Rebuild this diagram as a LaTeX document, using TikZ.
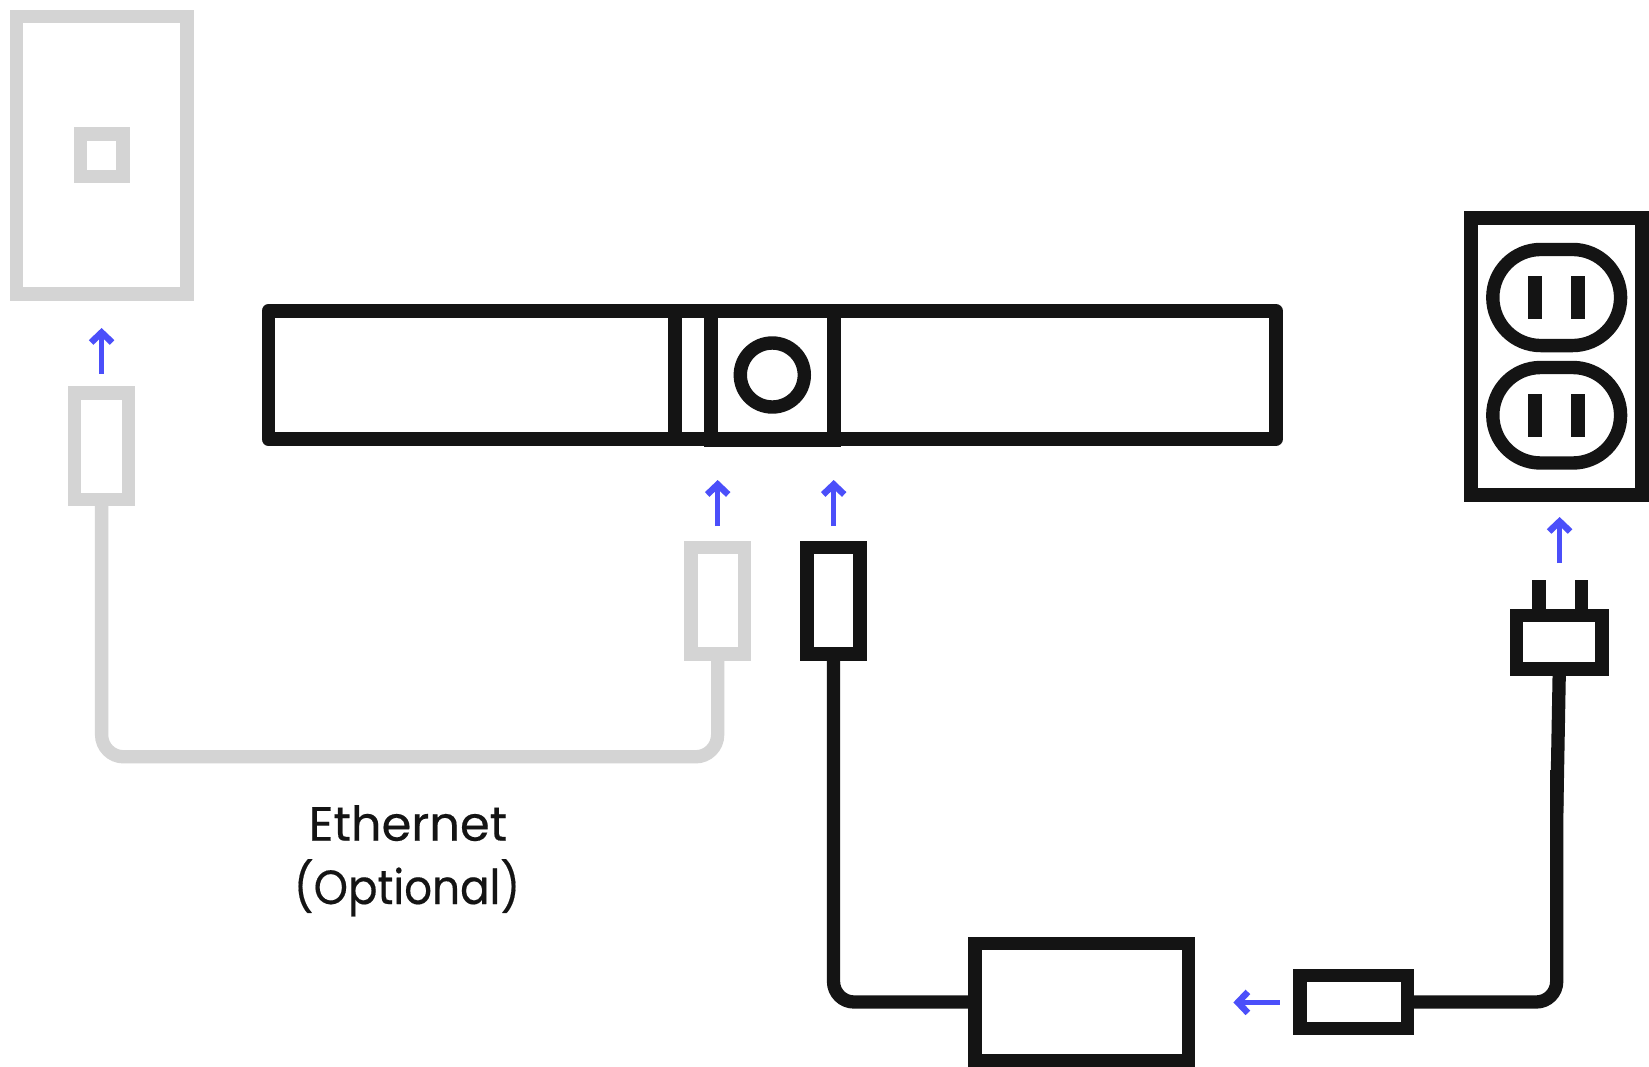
\documentclass[tikz,border=0pt]{standalone}
\usepackage{fontspec}
\setmainfont{Poppins}
\usetikzlibrary{arrows.meta,shapes.misc}
\definecolor{ink}{HTML}{141414}
\definecolor{pale}{HTML}{D4D4D4}
\definecolor{hint}{HTML}{4B4FFA}
\tikzset{
  part/.style={draw=#1,line width=13.5pt,inner sep=0pt,outer sep=0pt,rectangle,miter limit=10},
  dark/.style={part=ink},
  light/.style={part=pale},
  cord/.style={draw=#1,line width=13.3pt,rounded corners=20.5pt},
  slot/.style={fill=ink,draw=none,inner sep=0pt,outer sep=0pt,minimum width=13.7pt,minimum height=43.3pt},
  socket/.style={draw=ink,line width=13.4pt,rounded rectangle,rounded rectangle arc length=180,inner sep=0pt,outer sep=0pt,minimum width=127.8pt},
  hintarrow/.style={draw=hint,line width=5.3pt,-{Straight Barb[length=10pt,width=21pt,line width=6.5pt]}},
  label/.style={text=ink,inner sep=0pt,outer sep=0pt,font=\fontsize{48}{63}\selectfont\addfontfeature{FakeBold=0.35},align=center}
}
\begin{document}
\begin{tikzpicture}[x=1pt,y=-1pt]
\useasboundingbox[fill=white] (0,0) rectangle (1649,1066);

% wall plate (ethernet)
\node[light,minimum width=170.7pt,minimum height=277.7pt] (wall) at (101.6,155.15) {};
\node[light,minimum width=42.6pt,minimum height=42.6pt] (jack) at (101.6,155.1) {};

% ethernet plugs and cable
\node[light,minimum width=53.8pt,minimum height=106.3pt] (plugA) at (101.6,446.15) {};
\node[light,minimum width=53.3pt,minimum height=106.7pt] (plugB) at (717.65,600.65) {};
\coordinate (lowE) at (400,756.8);
\draw[cord=pale,rounded corners=22pt] (plugA.south) -- (plugA.south |- lowE) -- (plugB.south |- lowE) -- (plugB.south);

% soundbar
\node[dark,line join=round,minimum width=1007.6pt,minimum height=128.4pt] (bar) at (772.2,375) {};
\coordinate (divider) at (675.2,375);
\draw[ink,line width=13.5pt] (divider |- bar.north) -- (divider |- bar.south);
\node[dark,minimum width=123.4pt,minimum height=129pt] (dock) at (772.5,375.4) {};
\node[draw=ink,line width=13.4pt,circle,inner sep=0pt,minimum size=64pt] (port) at (772.3,375) {};

% power plug, brick, adapter
\node[dark,minimum width=53.4pt,minimum height=106.7pt] (plugC) at (833.5,600.65) {};
\node[dark,minimum width=213.9pt,minimum height=117.4pt] (brick) at (1081.75,1002) {};
\node[dark,minimum width=107.6pt,minimum height=53.2pt] (adapter) at (1353.9,1002) {};
\draw[cord=ink] (plugC.south) |- (brick.west);

% wall plug
\node[dark,minimum width=85.3pt,minimum height=53.8pt] (plugD) at (1559.3,642.2) {};
\coordinate (prongL) at (1538.7,580.3);
\coordinate (prongR) at (1581.6,580.3);
\draw[ink,line width=13.6pt] (prongL) -- (prongL |- plugD.north);
\draw[ink,line width=13.6pt] (prongR) -- (prongR |- plugD.north);

% adapter to wall plug cable
\coordinate (bend) at (1556.7,770);
\coordinate (kink) at (1556.7,813);
\draw[ink,line width=13.3pt] (plugD.south) -- (kink);
\draw[cord=ink] (bend) |- (adapter.east);

% outlet
\node[dark,minimum width=171pt,minimum height=277.4pt] (outlet) at (1556.5,356.5) {};
\node[socket,minimum height=96.1pt] (socketA) at (1556.7,297.5) {};
\node[socket,minimum height=95.5pt] (socketB) at (1556.7,415.25) {};
\node[slot] (slotA) at (1535.15,297.7) {};
\node[slot] (slotB) at (1577.85,297.7) {};
\node[slot] (slotC) at (1535.15,415.2) {};
\node[slot] (slotD) at (1577.85,415.2) {};

% hint arrows
\coordinate (h1a) at (101.6,373.8); \coordinate (h1b) at (101.6,328);
\coordinate (h2a) at (717.7,526);   \coordinate (h2b) at (717.7,480);
\coordinate (h3a) at (833.7,526);   \coordinate (h3b) at (833.7,480);
\coordinate (h4a) at (1559.6,563);  \coordinate (h4b) at (1559.6,517);
\coordinate (h5a) at (1279.7,1002.4); \coordinate (h5b) at (1233.4,1002.4);
\draw[hintarrow] (h1a) -- (h1b);
\draw[hintarrow] (h2a) -- (h2b);
\draw[hintarrow] (h3a) -- (h3b);
\draw[hintarrow] (h4a) -- (h4b);
\draw[hintarrow] (h5a) -- (h5b);

% label
\node[label,anchor=base] (eth) at (408,840.7) {Ethernet};
\node[label,anchor=base] (opt) at (407,904) {\addfontfeature{FakeStretch=0.91}(Optional)};
\end{tikzpicture}
\end{document}
